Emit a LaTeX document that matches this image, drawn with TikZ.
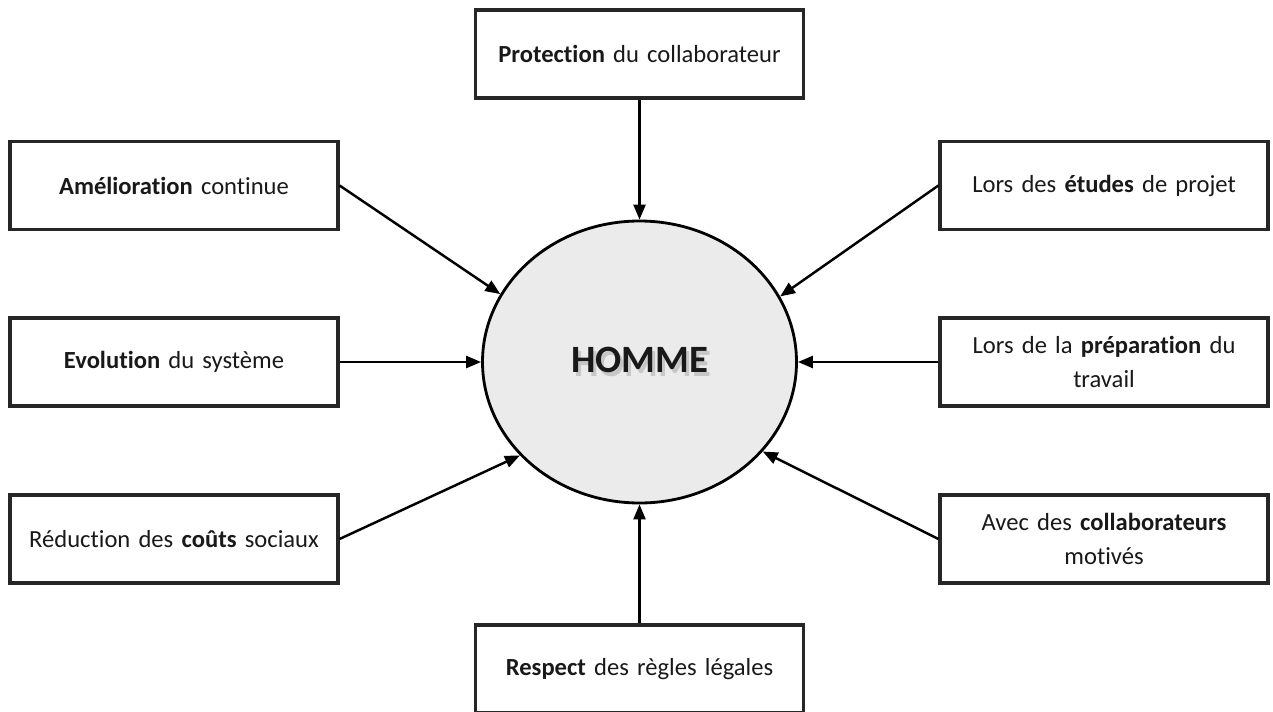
\documentclass[tikz,border=0pt]{standalone}
\usepackage{fontspec}
\setmainfont{Carlito}[Ligatures=NoCommon]
\usetikzlibrary{arrows.meta,shapes.geometric}
\begin{document}
\begin{tikzpicture}[
    facteur/.style={draw=black!85, line width=1.8pt, minimum width=6.56cm, minimum height=1.76cm, align=center, text width=6.3cm, text=black!90, font=\fontsize{14}{19.5}\selectfont},
    centre/.style={ellipse, draw=black, line width=1.6pt, fill=black!8, minimum width=6.28cm, minimum height=5.64cm, inner sep=0pt, text=black!90, font=\fontsize{22}{26}\selectfont\bfseries},
    arrow/.style={-{Triangle[length=0.3cm,width=0.24cm]}, line width=1.4pt, color=black}
]
\useasboundingbox[fill=white] (0,0) rectangle (25.46,14.22);

\node[centre] (homme) at (12.79,6.98) {\rlap{\hspace{1.8pt}\raisebox{-1.8pt}{\color{black!22}HOMME}}HOMME};

\node[facteur] (prot) at (12.79,13.14) {\textbf{Protection} du collaborateur};
\node[facteur] (amel) at (3.48,10.51) {\textbf{Amélioration} continue};
\node[facteur] (evol) at (3.48,6.98) {\textbf{Evolution} du système};
\node[facteur] (redu) at (3.48,3.44) {Réduction des \textbf{coûts} sociaux};
\node[facteur] (etud) at (22.08,10.51) {Lors des \textbf{études} de projet};
\node[facteur] (prep) at (22.08,6.98) {Lors de la \textbf{préparation} du\\travail};
\node[facteur] (moti) at (22.08,3.44) {Avec des \textbf{collaborateurs}\\motivés};
\node[facteur] (resp) at (12.79,0.84) {\textbf{Respect} des règles légales};

\draw[arrow] (prot.south) -- (homme.90);
\draw[arrow] (amel.east) -- (homme.154);
\draw[arrow] (evol.east) -- (homme.180);
\draw[arrow] (redu.east) -- (homme.218);
\draw[arrow] (etud.west) -- (homme.25);
\draw[arrow] (prep.west) -- (homme.0);
\draw[arrow] (moti.west) -- (homme.324);
\draw[arrow] (resp.north) -- (homme.270);
\end{tikzpicture}
\end{document}
